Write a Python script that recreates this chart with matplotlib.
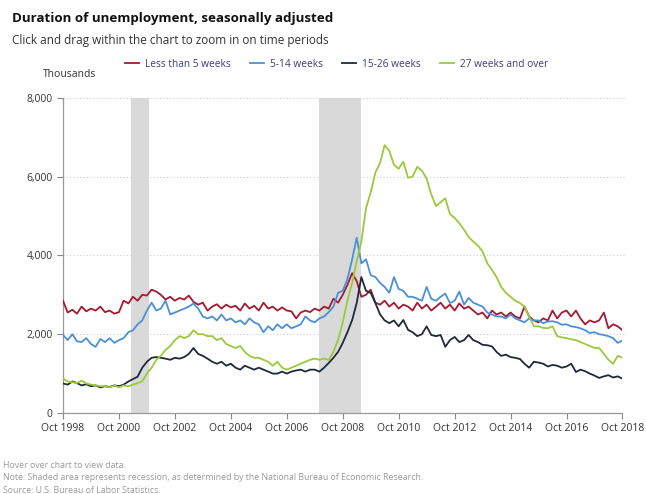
import matplotlib
matplotlib.use("Agg")
import matplotlib.pyplot as plt
import pandas as pd

plt.rcParams["font.family"] = ["Open Sans", "DejaVu Sans"]

# bimonthly readings, Oct 1998 .. Oct 2018 (thousands)
dates = pd.date_range("1998-10-01", "2018-10-01", freq="2MS")

less_5 = [
    2850, 2550, 2620, 2520, 2700, 2580,
    2650, 2600, 2700, 2560, 2600, 2520,
    2560, 2850, 2780, 2950, 2850, 3000,
    2980, 3130, 3080, 3000, 2880, 2950,
    2850, 2920, 2880, 2980, 2820, 2750,
    2800, 2600, 2700, 2760, 2650, 2750,
    2680, 2720, 2600, 2780, 2650, 2720,
    2600, 2800, 2650, 2700, 2600, 2680,
    2600, 2580, 2400, 2550, 2600, 2560,
    2650, 2600, 2700, 2650, 2900, 2800,
    3000, 3250, 3550, 3350, 2950, 3000,
    3130, 2800, 2750, 2850, 2700, 2800,
    2650, 2750, 2700, 2600, 2800, 2650,
    2750, 2600, 2700, 2800, 2650, 2750,
    2600, 2780, 2650, 2700, 2600, 2500,
    2550, 2400, 2600, 2500, 2550, 2450,
    2550, 2450, 2400, 2700, 2450, 2350,
    2300, 2400, 2350, 2600, 2400, 2550,
    2600, 2450, 2600, 2400, 2250, 2350,
    2300, 2350, 2550, 2150, 2250, 2200,
    2100,
]

wk_5_14 = [
    1980, 1850, 2000, 1820, 1800, 1900,
    1750, 1680, 1880, 1800, 1900, 1780,
    1850, 1900, 2050, 2100, 2250, 2350,
    2600, 2800, 2600, 2650, 2850, 2500,
    2550, 2600, 2650, 2700, 2780, 2650,
    2450, 2400, 2450, 2350, 2500, 2350,
    2400, 2300, 2350, 2250, 2400, 2300,
    2250, 2050, 2200, 2100, 2250, 2150,
    2250, 2150, 2200, 2250, 2450, 2350,
    2300, 2400, 2450, 2560, 2700, 3050,
    3100, 3400, 3900, 4450, 3800, 3900,
    3500, 3450, 3300, 3200, 3050, 3450,
    3150, 3100, 2950, 2950, 2900, 2850,
    3200, 2900, 2850, 2950, 3030, 2790,
    2850, 3080, 2750, 2920, 2800, 2750,
    2700, 2550, 2500, 2450, 2450, 2400,
    2500, 2400, 2350, 2300, 2400, 2350,
    2350, 2280, 2320, 2330, 2300, 2240,
    2250, 2200, 2180, 2150, 2100, 2030,
    2050, 2000, 1980, 1950, 1900, 1780,
    1840,
]

wk_15_26 = [
    750, 720, 800, 760, 700, 730,
    680, 700, 650, 680, 660, 700,
    680, 720, 800, 860, 920, 1150,
    1300, 1400, 1420, 1400, 1380, 1350,
    1400, 1380, 1420, 1500, 1650, 1500,
    1450, 1380, 1300, 1250, 1300, 1200,
    1250, 1150, 1100, 1200, 1150, 1100,
    1150, 1100, 1050, 1000, 1000, 1050,
    1000, 1050, 1080, 1100, 1050, 1100,
    1100, 1050, 1150, 1270, 1400, 1550,
    1780, 2050, 2360, 2790, 3450, 3100,
    3050, 2790, 2500, 2350, 2280, 2350,
    2200, 2360, 2110, 2050, 1950, 2000,
    2200, 1980, 1950, 1980, 1680, 1850,
    1930, 1800, 1850, 1980, 1850, 1800,
    1730, 1720, 1690, 1550, 1450, 1480,
    1420, 1400, 1370, 1250, 1150, 1300,
    1280, 1250, 1180, 1220, 1200, 1150,
    1180, 1250, 1040, 1100, 1060, 1000,
    950, 890, 930, 960, 900, 930,
    870,
]

wk_27_over = [
    880, 800, 780, 760, 820, 750,
    720, 700, 680, 680, 650, 700,
    650, 700, 680, 720, 760, 800,
    1000, 1150, 1350, 1450, 1600, 1700,
    1850, 1950, 1900, 1950, 2100, 2000,
    2000, 1950, 1950, 1850, 1900, 1750,
    1700, 1650, 1700, 1550, 1450, 1400,
    1400, 1350, 1300, 1200, 1300, 1150,
    1100, 1150, 1200, 1250, 1300, 1350,
    1380, 1350, 1380, 1350, 1550, 1850,
    2300, 2850, 3300, 3850, 4350, 5200,
    5600, 6100, 6350, 6800, 6650, 6300,
    6200, 6380, 5970, 6000, 6250, 6150,
    5950, 5550, 5250, 5350, 5450, 5050,
    4950, 4820, 4650, 4470, 4350, 4250,
    4100, 3800, 3630, 3450, 3200, 3050,
    2950, 2850, 2790, 2700, 2450, 2200,
    2200, 2160, 2150, 2200, 1950, 1920,
    1900, 1870, 1850, 1800, 1750, 1700,
    1650, 1650, 1500, 1350, 1250, 1450,
    1400,
]

series = [
    ("Less than 5 weeks", less_5, "#a6192e"),
    ("5-14 weeks", wk_5_14, "#4a90d9"),
    ("15-26 weeks", wk_15_26, "#1f2a38"),
    ("27 weeks and over", wk_27_over, "#9ac93b"),
]

recessions = [("2001-03-01", "2001-11-01"), ("2007-12-01", "2009-06-01")]
tick_dates = pd.date_range("1998-10-01", "2018-10-01", freq="24MS")

fig = plt.figure(figsize=(6.46, 4.94), dpi=100)
ax = fig.add_axes([0.0975, 0.164, 0.866, 0.638])

for start, end in recessions:
    ax.axvspan(pd.Timestamp(start), pd.Timestamp(end), color="#d9d9d9", lw=0, zorder=1)

for label, values, color in series:
    ax.plot(dates, values, color=color, lw=1.3, label=label, zorder=3)

ax.set_xlim(dates[0], dates[-1])
ax.set_ylim(0, 8000)
ax.set_yticks([0, 2000, 4000, 6000, 8000])
ax.set_yticklabels(["0", "2,000", "4,000", "6,000", "8,000"])
ax.set_xticks(tick_dates)
ax.set_xticklabels([d.strftime("Oct %Y") for d in tick_dates])
ax.tick_params(axis="both", labelsize=7.5, colors="#888888", labelcolor="#333333", length=4, width=0.8)

for y in [2000, 4000, 6000, 8000]:
    ax.axhline(y, color="#cccccc", lw=0.8, ls=(0, (1, 2)), zorder=0, xmax=1.005, clip_on=False)

for side in ["top", "right"]:
    ax.spines[side].set_visible(False)
for side in ["left", "bottom"]:
    ax.spines[side].set_color("#999999")
    ax.spines[side].set_linewidth(0.9)

ax.text(-0.035, 1.065, "Thousands", transform=ax.transAxes, fontsize=7.5, color="#333333")

fig.text(0.018, 0.963, "Duration of unemployment, seasonally adjusted",
         fontsize=9.6, fontweight="bold", color="#111111", va="center")
fig.text(0.018, 0.918, "Click and drag within the chart to zoom in on time periods",
         fontsize=8.5, color="#333333", va="center")

fig.legend(loc="center", bbox_to_anchor=(0.521, 0.87), ncol=4, frameon=False,
           fontsize=7.3, handlelength=1.35, columnspacing=1.9, handletextpad=0.6,
           labelcolor="#3d3d7a")

notes = [
    "Hover over chart to view data.",
    "Note: Shaded area represents recession, as determined by the National Bureau of Economic Research.",
    "Source: U.S. Bureau of Labor Statistics.",
]
for i, line in enumerate(notes):
    fig.text(0.004, 0.058 - i * 0.025, line, fontsize=6.3, color="#999999", va="center")

fig.savefig("out.png", dpi=100)
